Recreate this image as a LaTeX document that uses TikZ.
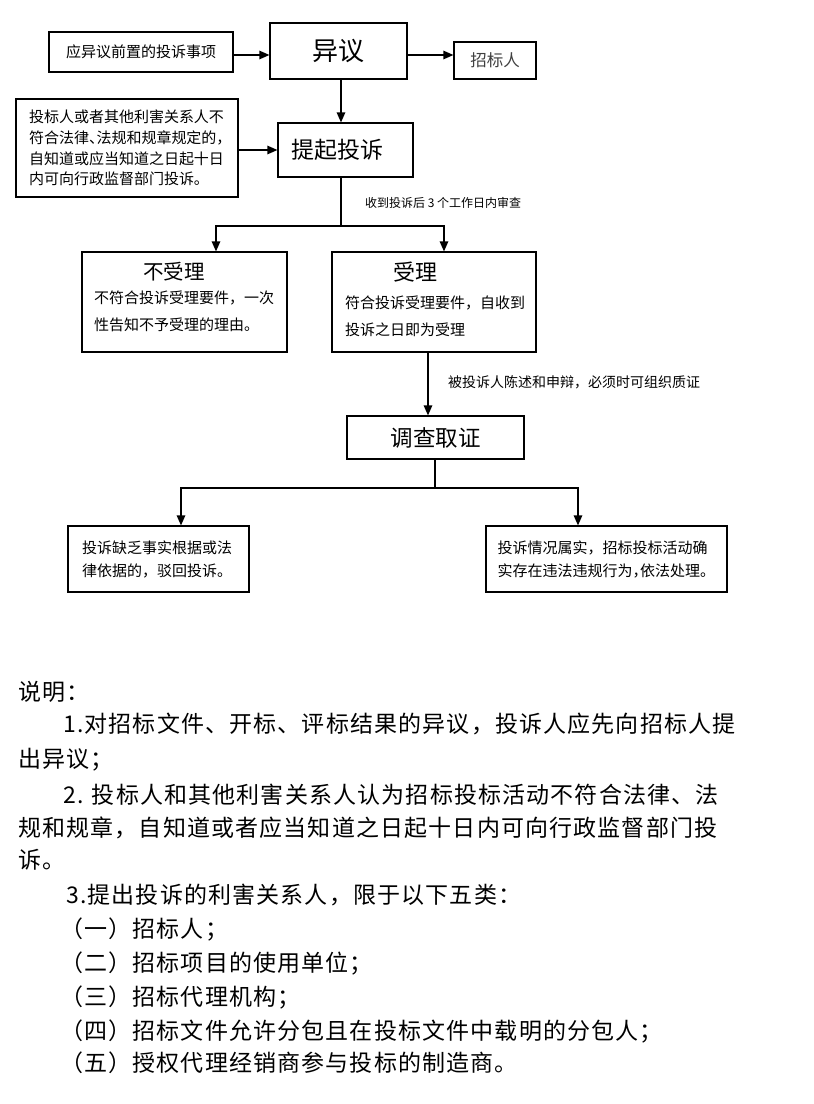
\documentclass[tikz,border=0pt]{standalone}
\usepackage{fontspec}
\setmainfont{Noto Sans CJK SC}
\newfontfamily\notefont[LetterSpace=5]{Noto Sans CJK SC}
\usetikzlibrary{arrows.meta}
\newcommand\myfs[1]{\fontsize{#1}{#1}\selectfont}
\newcommand\myfsb[2]{\fontsize{#1}{#2}\selectfont}
\newcommand\hw[1]{\makebox[0.5em][l]{#1}}
\begin{document}
\begin{tikzpicture}[x=1pt,y=-1pt]
\tikzset{
  box/.style={draw, line width=1.2pt, inner sep=0pt},
  arr/.style={line width=1.2pt, -{Triangle[length=10pt,width=8.5pt]}},
  ln/.style={line width=1.2pt},
  txt/.style={inner sep=0pt, anchor=west, align=left},
  note/.style={txt, font=\notefont\myfs{23}},
}
\useasboundingbox (0,0) rectangle (814,1104);
\fill[white] (0,0) rectangle (814,1104);

% top row
\node[box, minimum width=184pt, minimum height=40pt, font=\myfs{15}] (A) at (141,52) {应异议前置的投诉事项};
\node[box, minimum width=137pt, minimum height=56pt, font=\myfs{26}] (YY) at (338.5,51) {异议};
\node[box, minimum width=82pt, minimum height=37pt, font=\myfs{16.5}, text=black!75] (ZB) at (495,60.5) {招标人};

% second row
\node[box, minimum width=222pt, minimum height=98pt, text width=196pt, align=left, font=\myfsb{15}{20.7}] (B) at (127,148)
  {投标人或者其他利害关系人不\\符合法律\hw{、}法规和规章规定的，\\自知道或应当知道之日起十日\\内可向行政监督部门投诉。};
\node[box, minimum width=135pt, minimum height=54pt, text width=109pt, align=left, font=\myfs{23}] (T) at (345.5,150) {提起投诉};

\node[txt, font=\myfs{12}] (lab1) at (365,203) {收到投诉后 3 个工作日内审查};

% third row
\node[box, minimum width=205pt, minimum height=100pt] (N) at (184.5,302) {};
\node[inner sep=0pt, font=\myfs{20.5}] (Nt) at (174,272) {不受理};
\node[txt, font=\myfsb{15}{27}] (Nb) at (94,311.5) {不符合投诉受理要件，一次\\性告知不予受理的理由。};

\node[box, minimum width=204pt, minimum height=100pt] (S) at (434,302) {};
\node[inner sep=0pt, font=\myfs{22}] (St) at (415,272) {受理};
\node[txt, font=\myfsb{15}{27}] (Sb) at (345,316.5) {符合投诉受理要件，自收到\\投诉之日即为受理};

\node[txt, font=\myfs{14}] (lab2) at (448,382) {被投诉人陈述和申辩，必须时可组织质证};

\node[box, minimum width=177pt, minimum height=43pt, font=\myfs{22.5}] (D) at (435.5,437.5) {调查取证};

% bottom row
\node[box, minimum width=181pt, minimum height=66pt, text width=153pt, align=left, font=\myfsb{15}{23}] (L) at (158.5,559)
  {投诉缺乏事实根据或法\\律依据的，驳回投诉。};
\node[box, minimum width=241pt, minimum height=66pt, text width=218pt, align=left, font=\myfsb{15}{23}] (R) at (606.5,559)
  {投诉情况属实，招标投标活动确\\实存在违法违规行为\hw{，}依法处理。};

% connectors
\draw[arr] ([yshift=-3pt]A.east) -- ([yshift=-3pt]A.east -| YY.west);
\draw[arr] ([yshift=-4pt]YY.east) -- ([yshift=-4pt]YY.east -| ZB.west);
\draw[arr] ([xshift=2.5pt]YY.south) -- ([xshift=2.5pt]YY.south |- T.north);
\draw[arr] ([yshift=-2pt]B.east) -- ([yshift=-2pt]B.east -| T.west);
\coordinate (c1) at (341,226);
\draw[ln] (T.south -| c1) -- (c1);
\draw[arr] (c1) -| ([xshift=31.5pt]N.north);
\draw[arr] (c1) -| ([xshift=10pt]S.north);
\draw[arr] ([xshift=-6pt]S.south) -- ([xshift=-6pt]S.south |- D.north);
\coordinate (c2) at (435,488);
\draw[ln] (D.south -| c2) -- (c2);
\draw[arr] (c2) -| ([xshift=22.5pt]L.north);
\draw[arr] (c2) -| ([xshift=-28.5pt]R.north);

% notes
\node[note] (n0) at (18,692) {说明：};
\node[note] (n1) at (63,724) {1.对招标文件、开标、评标结果的异议，投诉人应先向招标人提};
\node[note] (n2) at (18,760) {出异议；};
\node[note] (n3) at (63,795) {2. 投标人和其他利害关系人认为招标投标活动不符合法律、法};
\node[note] (n4) at (18,828) {规和规章，自知道或者应当知道之日起十日内可向行政监督部门投};
\node[note] (n5) at (18,860) {诉。};
\node[note] (n6) at (66,895) {3.提出投诉的利害关系人，限于以下五类：};
\node[note] (n7) at (60,929) {（一）招标人；};
\node[note] (n8) at (60,963) {（二）招标项目的使用单位；};
\node[note] (n9) at (60,997) {（三）招标代理机构；};
\node[note] (n10) at (60,1031) {（四）招标文件允许分包且在投标文件中载明的分包人；};
\node[note] (n11) at (60,1063) {（五）授权代理经销商参与投标的制造商。};
\end{tikzpicture}
\end{document}
